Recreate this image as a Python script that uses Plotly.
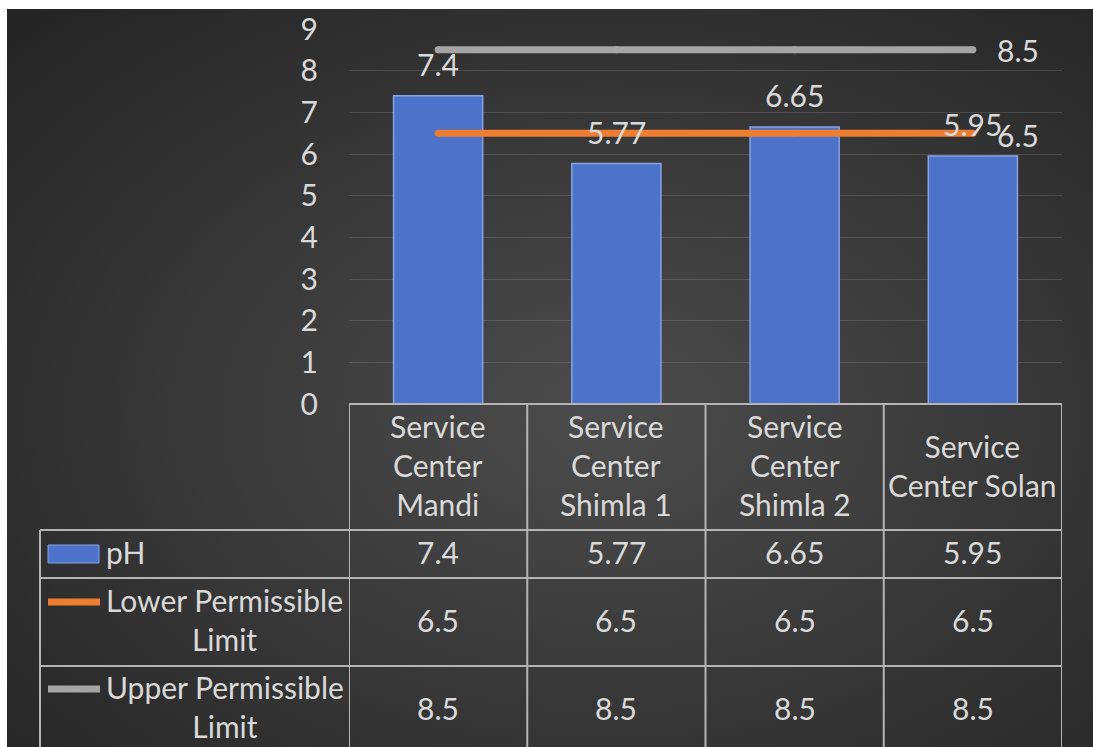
import base64
import plotly.graph_objects as go

# ---- data ----
categories = ["Service Center Mandi", "Service Center Shimla 1",
              "Service Center Shimla 2", "Service Center Solan"]
header_labels = ["Service<br>Center<br>Mandi", "Service<br>Center<br>Shimla 1",
                 "Service<br>Center<br>Shimla 2", "Service<br>Center Solan"]
ph_values = [7.4, 5.77, 6.65, 5.95]
lower_limit = [6.5, 6.5, 6.5, 6.5]
upper_limit = [8.5, 8.5, 8.5, 8.5]
y_ticks = [0, 1, 2, 3, 4, 5, 6, 7, 8, 9]

# ---- styling ----
FONT = "Lato, Open Sans, sans-serif"
TXT = "#D9D9D9"
FS = 30
BLUE = "#4c72c9"
ORANGE = "#ED7D31"
GRAY = "#A5A5A5"
GRID_LINE = "#B4B4B4"

W, H = 1093, 747
L, R, T, B = 349, 31, 29, 343
PW, PH = W - L - R, H - T - B


def px_x(px):
    return (px - L) / PW


def px_y(py):
    return (H - B - py) / PH


xs = list(range(len(categories)))

fig = go.Figure()

fig.add_trace(go.Bar(
    x=xs, y=ph_values, name="pH",
    marker=dict(color=BLUE, line=dict(color="#86a2e3", width=1.5)),
    hoverinfo="skip",
))
fig.add_trace(go.Scatter(
    x=xs, y=lower_limit, name="Lower Permissible Limit", mode="lines+markers",
    line=dict(color=ORANGE, width=7), marker=dict(color=ORANGE, size=7),
    hoverinfo="skip",
))
fig.add_trace(go.Scatter(
    x=xs, y=upper_limit, name="Upper Permissible Limit", mode="lines+markers",
    line=dict(color=GRAY, width=7), marker=dict(color=GRAY, size=7),
    hoverinfo="skip",
))

annotations = []
# value labels above bars
for i, v in enumerate(ph_values):
    annotations.append(dict(x=i, y=v, xref="x", yref="y", text=str(v),
                            showarrow=False, yshift=32, yanchor="middle",
                            font=dict(family=FONT, size=FS, color=TXT)))
# value labels at the right end of the limit lines
for series, ys in ((upper_limit, 0), (lower_limit, -2)):
    annotations.append(dict(x=xs[-1], y=series[-1], xref="x", yref="y",
                            text=str(series[-1]), showarrow=False,
                            xanchor="left", xshift=22, yshift=ys,
                            yanchor="middle",
                            font=dict(family=FONT, size=FS, color=TXT)))

# ---- data table under the axis ----
row_edges = [404, 530, 578, 666, 747]
col_edges = [i - 0.5 for i in range(len(categories) + 1)]
shapes = []
line_style = dict(color=GRID_LINE, width=2)
# horizontal rules
shapes.append(dict(type="line", xref="x", yref="paper", x0=col_edges[0], x1=col_edges[-1],
                   y0=px_y(row_edges[0]), y1=px_y(row_edges[0]), line=line_style, layer="above"))
for py in row_edges[1:4]:
    shapes.append(dict(type="line", xref="paper", yref="paper", x0=px_x(40), x1=1.0,
                       y0=px_y(py), y1=px_y(py), line=line_style))
# vertical rules
for cx in col_edges:
    shapes.append(dict(type="line", xref="x", yref="paper", x0=cx, x1=cx,
                       y0=px_y(row_edges[0]), y1=px_y(760), line=line_style))
shapes.append(dict(type="line", xref="paper", yref="paper", x0=px_x(40), x1=px_x(40),
                   y0=px_y(row_edges[1]), y1=px_y(760), line=line_style))

# legend keys in the row headers
shapes.append(dict(type="rect", xref="paper", yref="paper", x0=px_x(48), x1=px_x(99),
                   y0=px_y(563), y1=px_y(545), fillcolor=BLUE,
                   line=dict(color="#86a2e3", width=1)))
shapes.append(dict(type="line", xref="paper", yref="paper", x0=px_x(48), x1=px_x(100),
                   y0=px_y(602), y1=px_y(602), line=dict(color=ORANGE, width=7)))
shapes.append(dict(type="line", xref="paper", yref="paper", x0=px_x(48), x1=px_x(100),
                   y0=px_y(689), y1=px_y(689), line=dict(color=GRAY, width=7)))

# header cells
for i, lab in enumerate(header_labels):
    annotations.append(dict(x=i, y=px_y(465), xref="x", yref="paper", text=lab,
                            showarrow=False, yanchor="middle", align="center",
                            font=dict(family=FONT, size=FS, color=TXT)))
# row headers
row_names = [("pH", 552), ("Lower Permissible<br>Limit", 619), ("Upper Permissible<br>Limit", 706)]
for txt, py in row_names:
    annotations.append(dict(x=px_x(104), y=px_y(py), xref="paper", yref="paper", text=txt,
                            showarrow=False, xanchor="left", yanchor="middle", align="center",
                            font=dict(family=FONT, size=FS, color=TXT)))
# row values
for series, py in ((ph_values, 552), (lower_limit, 620), (upper_limit, 708)):
    for i, v in enumerate(series):
        annotations.append(dict(x=i, y=px_y(py), xref="x", yref="paper", text=str(v),
                                showarrow=False, yanchor="middle",
                                font=dict(family=FONT, size=FS, color=TXT)))

# dark radial backdrop
svg = (
    '<svg xmlns="http://www.w3.org/2000/svg" width="1086" height="738" '
    'preserveAspectRatio="none" viewBox="0 0 1086 738">'
    '<defs><radialGradient id="g" cx="0.55" cy="0.55" r="0.75">'
    '<stop offset="0" stop-color="#4c4c4c"/>'
    '<stop offset="1" stop-color="#252525"/>'
    '</radialGradient></defs>'
    '<rect width="1086" height="738" fill="url(#g)"/></svg>'
)
bg_src = "data:image/svg+xml;base64," + base64.b64encode(svg.encode()).decode()

fig.update_layout(
    width=W, height=H, autosize=False,
    margin=dict(l=L, r=R, t=T, b=B, pad=0, autoexpand=False),
    paper_bgcolor="white", plot_bgcolor="rgba(0,0,0,0)",
    showlegend=False, bargap=0.5,
    font=dict(family=FONT, size=FS, color=TXT),
    images=[dict(source=bg_src, xref="paper", yref="paper",
                 x=px_x(7), y=px_y(9), sizex=(W - 7) / PW, sizey=(H - 9) / PH,
                 xanchor="left", yanchor="top", sizing="stretch", layer="below")],
    shapes=shapes, annotations=annotations,
    xaxis=dict(range=[-0.5, 3.5], showticklabels=False, showgrid=False,
               zeroline=False, showline=False, fixedrange=True, automargin=False),
    yaxis=dict(range=[0, 9], tickvals=y_ticks, showgrid=True,
               gridcolor="rgba(255,255,255,0.13)", gridwidth=1,
               zeroline=False, showline=False, ticklabelstandoff=30,
               automargin=False,
               tickfont=dict(family=FONT, size=FS, color=TXT), fixedrange=True),
)

fig.write_html("out.html")
